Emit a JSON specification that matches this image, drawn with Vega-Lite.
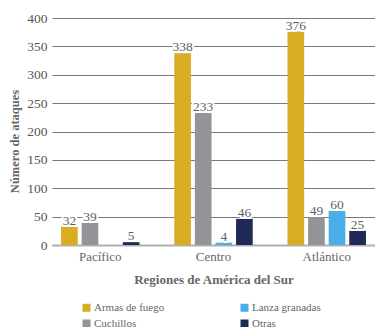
{
  "$schema": "https://vega.github.io/schema/vega-lite/v6.json",
  "width": 323,
  "height": 227,
  "autosize": {"type": "none"},
  "padding": {"left": 52, "top": 18, "right": 0, "bottom": 82},
  "config": {
    "font": "Liberation Serif",
    "view": {"stroke": null},
    "axis": {"labelFont": "Liberation Serif", "titleFont": "Liberation Serif"},
    "legend": {"labelFont": "Liberation Serif", "titleFont": "Liberation Serif"},
    "text": {"font": "Liberation Serif"}
  },
  "data": {
    "values": [
      {"region": "Pacífico", "tipo": "Armas de fuego", "n": 32},
      {"region": "Pacífico", "tipo": "Cuchillos", "n": 39},
      {"region": "Pacífico", "tipo": "Otras", "n": 5},
      {"region": "Centro", "tipo": "Armas de fuego", "n": 338},
      {"region": "Centro", "tipo": "Cuchillos", "n": 233},
      {"region": "Centro", "tipo": "Lanza granadas", "n": 4},
      {"region": "Centro", "tipo": "Otras", "n": 46},
      {"region": "Atlántico", "tipo": "Armas de fuego", "n": 376},
      {"region": "Atlántico", "tipo": "Cuchillos", "n": 49},
      {"region": "Atlántico", "tipo": "Lanza granadas", "n": 60},
      {"region": "Atlántico", "tipo": "Otras", "n": 25}
    ]
  },
  "encoding": {
    "x": {
      "field": "region", "type": "nominal",
      "sort": ["Pacífico", "Centro", "Atlántico"],
      "scale": {"paddingInner": 0.307, "paddingOuter": 0.08},
      "axis": {
        "title": "Regiones de América del Sur",
        "labelAngle": 0, "labelFontSize": 13, "labelColor": "#666",
        "titleFontSize": 13, "titleFontWeight": "bold", "titleColor": "#666",
        "ticks": false, "domainColor": "#b0b0b0", "domainWidth": 2,
        "labelPadding": 5, "titlePadding": 10
      }
    },
    "xOffset": {
      "field": "tipo", "type": "nominal",
      "sort": ["Armas de fuego", "Cuchillos", "Lanza granadas", "Otras"],
      "scale": {"domain": ["Armas de fuego", "Cuchillos", "Lanza granadas", "Otras"], "paddingInner": 0.19, "paddingOuter": 0}
    },
    "y": {
      "field": "n", "type": "quantitative",
      "scale": {"domain": [0, 400]},
      "axis": {
        "title": "Número de ataques",
        "values": [0, 50, 100, 150, 200, 250, 300, 350, 400],
        "grid": true, "gridColor": "#7a7a7a", "gridWidth": 1,
        "domain": false, "ticks": false,
        "labelFontSize": 13.5, "labelColor": "#555", "labelPadding": 5,
        "titleFontSize": 12.5, "titleFontWeight": "bold", "titleColor": "#666",
        "titlePadding": 5, "titleY": 123
      }
    }
  },
  "layer": [
    {
      "mark": {"type": "bar"},
      "encoding": {
        "color": {
          "field": "tipo", "type": "nominal",
          "scale": {
            "domain": ["Armas de fuego", "Lanza granadas", "Cuchillos", "Otras"],
            "range": ["#d8ad22", "#4baee8", "#929497", "#1c2a55"]
          },
          "legend": {
            "title": null, "orient": "none", "direction": "horizontal", "columns": 2,
            "legendX": 29, "legendY": 284,
            "symbolType": "square", "symbolSize": 64, "symbolStrokeWidth": 0,
            "labelFontSize": 11, "labelColor": "#666", "labelOffset": 2,
            "rowPadding": 4, "columnPadding": 74
          }
        }
      }
    },
    {
      "mark": {"type": "text", "baseline": "alphabetic", "dy": -2, "fontSize": 13.5, "color": "white", "stroke": "white", "strokeWidth": 4, "strokeJoin": "round"},
      "encoding": {"text": {"field": "n", "type": "quantitative"}}
    },
    {
      "mark": {"type": "text", "baseline": "alphabetic", "dy": -2, "fontSize": 13.5, "color": "#5f5f5f"},
      "encoding": {"text": {"field": "n", "type": "quantitative"}}
    }
  ]
}
